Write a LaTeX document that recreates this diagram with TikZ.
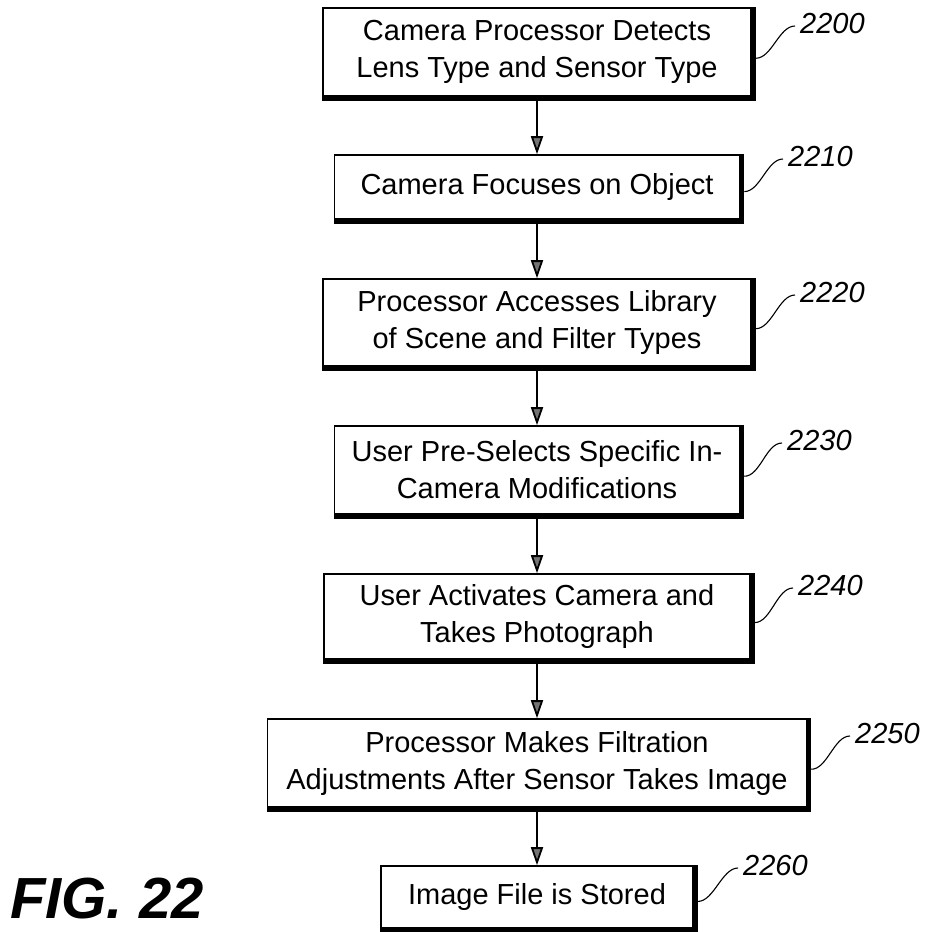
\documentclass[tikz,border=0pt]{standalone}
\usepackage{fontspec}
\setmainfont{Liberation Sans}
\usetikzlibrary{arrows.meta,calc}
\begin{document}
\begin{tikzpicture}[x=1pt,y=-1pt,
  stepbox/.style={draw,line width=1.6pt,rectangle,align=center,inner sep=0pt,font=\fontsize{29}{37}\selectfont},
  flow/.style={line width=1.8pt,-{Triangle[length=18pt,width=12pt,fill=black!55]}},
  reflabel/.style={font=\fontsize{29}{30}\selectfont\itshape,anchor=west,inner sep=5pt},
  leader/.style={line width=1.1pt},
  shadowline/.style={line width=4.5pt}]
\useasboundingbox (0,0) rectangle (924,932);
\node[stepbox,minimum width=428pt,minimum height=88pt] (b1) at (537,52) {Camera Processor Detects\\Lens Type and Sensor Type};
\node[stepbox,minimum width=405pt,minimum height=64pt] (b2) at (537,187) {Camera Focuses on Object};
\node[stepbox,minimum width=428pt,minimum height=87pt] (b3) at (537,322.5) {Processor Accesses Library\\of Scene and Filter Types};
\node[stepbox,minimum width=405pt,minimum height=88pt] (b4) at (537,470) {User Pre-Selects Specific In-\\Camera Modifications};
\node[stepbox,minimum width=426pt,minimum height=85pt] (b5) at (537,616.5) {User Activates Camera and\\Takes Photograph};
\node[stepbox,minimum width=539pt,minimum height=88pt] (b6) at (537,763) {Processor Makes Filtration\\Adjustments After Sensor Takes Image};
\node[stepbox,minimum width=312pt,minimum height=62pt] (b7) at (537,897) {Image File is Stored};
\foreach \n in {b1,b2,b3,b4,b5,b6,b7}
  \draw[shadowline] ([xshift=1.5pt]\n.north east) -- ([xshift=1.5pt,yshift=-1.5pt]\n.south east) -- ([yshift=-1.5pt]\n.south west);
\draw[flow] (b1) -- (b2);
\draw[flow] (b2) -- (b3);
\draw[flow] (b3) -- (b4);
\draw[flow] (b4) -- (b5);
\draw[flow] (b5) -- (b6);
\draw[flow] (b6) -- (b7);
\node[reflabel] (l1) at (795,24) {2200};
\node[reflabel] (l2) at (783,157) {2210};
\node[reflabel] (l3) at (795,293) {2220};
\node[reflabel] (l4) at (782,441) {2230};
\node[reflabel] (l5) at (793,586) {2240};
\node[reflabel] (l6) at (850,734) {2250};
\node[reflabel] (l7) at (738,866) {2260};
\foreach \b/\l in {b1/l1,b2/l2,b3/l3,b4/l4,b5/l5,b6/l6,b7/l7}{
  \coordinate (s\b) at ($(\b.north east)!0.57!(\b.south east)+(4,0)$);
  \draw[leader] (s\b) .. controls +(16,0) and +(-16,0) .. ([yshift=-2pt]\l.west);
}
\node[font=\fontsize{58}{60}\selectfont\bfseries\itshape,anchor=base west,inner sep=0pt] (fig) at (10,918) {FIG. 22};
\end{tikzpicture}
\end{document}
